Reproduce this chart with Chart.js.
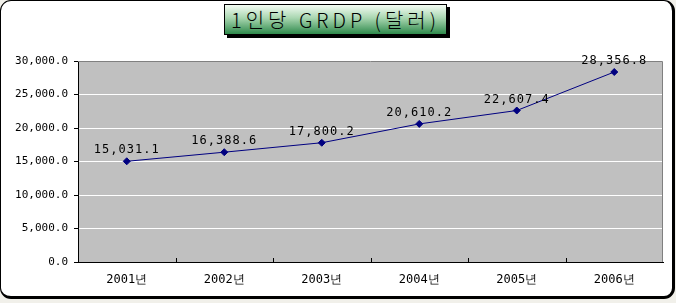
<!DOCTYPE html>
<html>
<head>
<meta charset="utf-8">
<script src="https://cdn.jsdelivr.net/npm/chart.js@4"></script>
<style>
  body { margin: 0; background: #f1f0ea; }
  #frame {
    position: absolute; left: 0; top: 0;
    width: 671px; height: 295px;
    background: #fff;
    border-style: solid; border-color: #000;
    border-width: 1px 3px 3px 1px;
    border-radius: 11px;
  }
  #title {
    position: absolute; left: 224px; top: 4px;
    width: 221px; height: 29px;
    border: 1px solid #000;
    box-shadow: 3px 3px 0 #000;
    background: linear-gradient(#f4fcf4, #a8d6b0 45%, #2f8a4c);
    font-family: "Noto Sans CJK KR", sans-serif;
    font-weight: 300;
    font-size: 20px; letter-spacing: 4px;
    text-align: center; line-height: 29px; color: #000;
  }
  #wrap { position: absolute; left: 0; top: 0; width: 676px; height: 303px; }
</style>
</head>
<body>
<div id="frame"></div>
<div id="title">1인당 GRDP (달러)</div>
<div id="wrap"><canvas id="myChart"></canvas></div>
<script>
let years = ['2001년', '2002년', '2003년', '2004년', '2005년', '2006년'];
let grdpArr = [15031.1, 16388.6, 17800.2, 20610.2, 22607.4, 28356.8];
let yTicks = [0, 5000, 10000, 15000, 20000, 25000, 30000];

function fmt(v) {
  return v.toLocaleString('en-US', { minimumFractionDigits: 1, maximumFractionDigits: 1 });
}

// grey plot background + borders, inner category ticks, value labels
const plotStuff = {
  id: 'plotStuff',
  beforeDraw(chart) {
    let a = chart.chartArea;
    let ctx = chart.ctx;
    ctx.save();
    ctx.fillStyle = '#c0c0c0';
    ctx.fillRect(a.left, a.top, a.right - a.left, a.bottom - a.top);
    ctx.restore();
  },
  beforeDatasetsDraw(chart) {
    let a = chart.chartArea;
    let ctx = chart.ctx;
    let x = chart.scales.x;
    ctx.save();
    ctx.strokeStyle = '#808080';
    ctx.lineWidth = 1;
    ctx.beginPath();
    ctx.moveTo(a.left, a.top + 0.5);
    ctx.lineTo(a.right - 0.5, a.top + 0.5);
    ctx.lineTo(a.right - 0.5, a.bottom);
    ctx.stroke();
    ctx.strokeStyle = '#000';
    ctx.beginPath();
    for (let i = 0; i < years.length - 1; i++) {
      let px = Math.round((x.getPixelForValue(i) + x.getPixelForValue(i + 1)) / 2) + 0.5;
      ctx.moveTo(px, a.bottom);
      ctx.lineTo(px, a.bottom - 4);
    }
    ctx.stroke();
    ctx.restore();
  },
  afterDatasetsDraw(chart) {
    let ctx = chart.ctx;
    let meta = chart.getDatasetMeta(0);
    ctx.save();
    ctx.font = '12px "DejaVu Sans Mono", monospace';
    ctx.letterSpacing = '1px';
    ctx.fillStyle = '#000';
    ctx.textAlign = 'center';
    ctx.textBaseline = 'bottom';
    meta.data.forEach(function (pt, i) {
      ctx.fillText(fmt(grdpArr[i]), pt.x, pt.y - 5);
    });
    ctx.restore();
  }
};

const config = {
  type: 'line',
  data: {
    labels: years,
    datasets: [{
      data: grdpArr,
      borderColor: '#000080',
      backgroundColor: '#000080',
      borderWidth: 1,
      pointStyle: 'rectRot',
      pointRadius: 3.5,
      tension: 0
    }]
  },
  options: {
    responsive: true,
    maintainAspectRatio: false,
    animation: false,
    layout: { padding: { left: 0, top: 61, right: 13, bottom: 0 } },
    plugins: { legend: { display: false }, tooltip: { enabled: false } },
    scales: {
      x: {
        offset: true,
        grid: { display: false },
        border: { color: '#000', width: 1 },
        ticks: {
          color: '#000',
          padding: 3,
          font: { family: '"DejaVu Sans Mono", monospace', size: 12 }
        },
        afterFit(scale) { scale.height = 41; }
      },
      y: {
        min: 0,
        max: 30000,
        afterBuildTicks(scale) { scale.ticks = yTicks.map(v => ({ value: v })); },
        grid: { color: '#fff', tickColor: '#000', tickLength: 4 },
        border: { color: '#000', width: 1 },
        ticks: {
          color: '#000',
          padding: 6,
          font: { family: '"DejaVu Sans Mono", monospace', size: 11 },
          callback: function (v) { return fmt(v); }
        },
        afterFit(scale) { scale.width = 78; }
      }
    }
  },
  plugins: [plotStuff]
};

var myChart = new Chart(document.getElementById('myChart'), config);
</script>
</body>
</html>
